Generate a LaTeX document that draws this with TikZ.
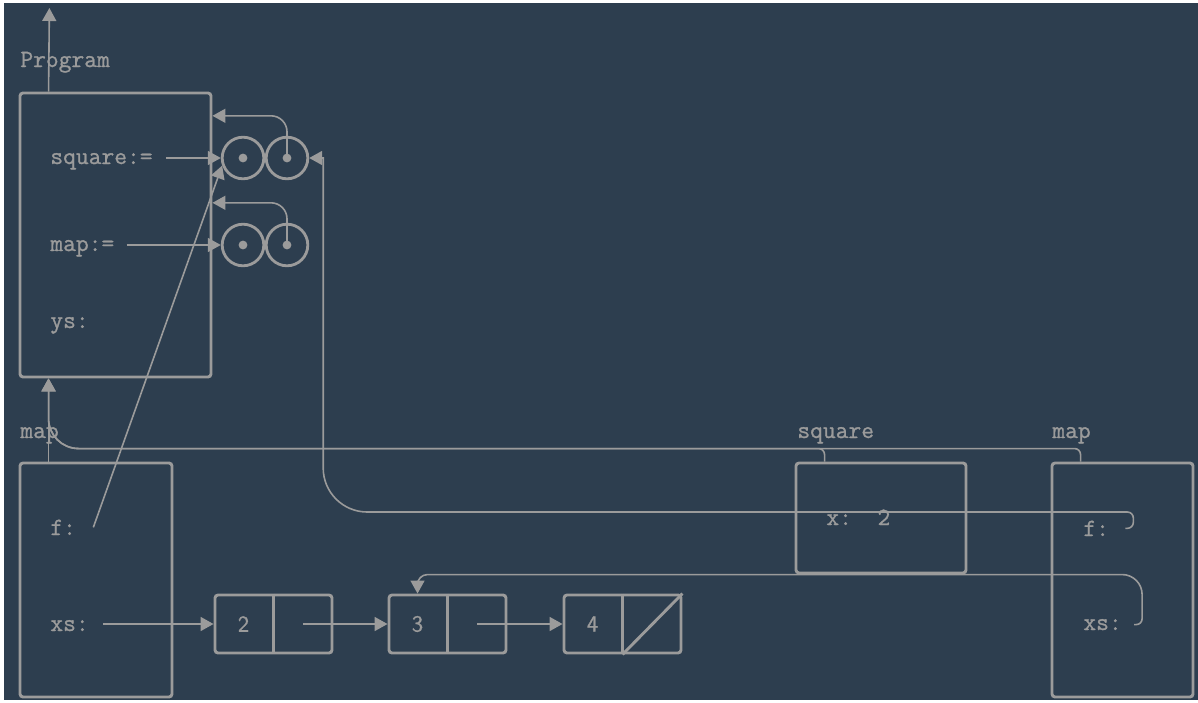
\documentclass[tikz,border=0pt]{standalone}
\usepackage{fontspec}
\newfontfamily\codefont{Latin Modern Mono}[FakeBold=1]
\newfontfamily\valfont{Latin Modern Sans}[FakeBold=1]
\usetikzlibrary{positioning, calc, arrows.meta}

\definecolor{bg}{HTML}{2D3E4F}
\definecolor{fg}{HTML}{9B9B9B}

\begin{document}
\begin{tikzpicture}[
        x=0.5pt, y=-0.5pt,
        frame/.style={
                draw=fg,
                line width=1.45pt,
                rounded corners=1.5pt,
                inner sep=0pt
            },
        cell/.style={frame, minimum width=58.5pt, minimum height=29pt},
        ref/.style={circle, draw=fg, line width=1.4pt, minimum size=20.8pt, inner sep=0pt},
        code/.style={font=\fontsize{12.4}{15}\selectfont\codefont, text=fg, inner sep=0pt, anchor=base west},
        val/.style={font=\fontsize{11.5}{13}\selectfont\valfont, text=fg, inner sep=0pt},
        arr/.style={draw=fg, line width=0.8pt, -{Triangle[length=6.5pt, width=7pt]}}
    ]
    \fill[white] (0,0) rectangle (1198,702);
    \fill[bg] (4,3) rectangle (1198,700);
    \useasboundingbox (0,0) rectangle (1198,702);

    % global frame
    \node[code] (prog_lbl) at (20,67) {Program};
    \node[frame, minimum width=95.5pt, minimum height=142pt] (prog) at (115.5,235) {};
    \node[code] (sq_var) at (50,164) {square:=};
    \node[code] (map_var) at (50,251) {map:=};
    \node[code] (ys_var) at (50,328) {ys:};
    \coordinate (global) at (49.4,8);

    % closures
    \node[ref] (sq_env) at (243,158) {};
    \node[ref] (sq_code) at (287,158) {};
    \node[ref] (map_env) at (243,245) {};
    \node[ref] (map_code) at (287,245) {};
    \foreach \c in {sq_env, sq_code, map_env, map_code}
        \fill[fg] (\c.center) circle (2.2pt);

    % frames of the calls
    \node[code] (lmap_lbl) at (20,438) {map};
    \node[frame, minimum width=76pt, minimum height=117pt] (lmap) at (96,580) {};
    \node[code] (lmap_f) at (50,535) {f:};
    \node[code] (lmap_xs) at (50,631) {xs:};

    \node[code] (sq_lbl) at (797,438) {square};
    \node[frame, minimum width=85pt, minimum height=55pt] (sq) at (881,518) {};
    \node[code] (sq_x) at (826,525) {x:\ \ 2};

    \node[code] (rmap_lbl) at (1052,438) {map};
    \node[frame, minimum width=70.5pt, minimum height=117pt] (rmap) at (1122.5,580) {};
    \node[code] (rmap_f) at (1083,536) {f:};
    \node[code] (rmap_xs) at (1083,630) {xs:};

    % the list
    \node[cell] (n1) at (273.5,624) {};
    \node[cell] (n2) at (447.5,624) {};
    \node[cell] (n3) at (622.5,624) {};
    \foreach \n/\v in {n1/2, n2/3, n3/4} {
        \draw[fg, line width=1.45pt] (\n.north) -- (\n.south);
        \node[val] at ($(\n.west)!0.25!(\n.east)$) {\v};
    }
    \draw[fg, line width=1.45pt] (n3.south) -- (n3.north east);

    % bends of the long connectors
    \coordinate (n2top) at ($(n2.north west)!0.5!(n2.north)$);
    \coordinate (xsbend) at ([yshift=9.5pt]n2top);
    \coordinate (xscurl) at ([xshift=10pt]rmap_xs.east);
    \coordinate (fup) at ([xshift=7pt]sq_code.east);
    \coordinate (fbend) at (fup |- 0,512);
    \coordinate (fcurl) at ([xshift=12pt]rmap_f.east);

    % bindings
    \draw[arr] ([xshift=6.5pt]sq_var.east |- sq_env.west) -- (sq_env.west);
    \draw[arr] ([xshift=6pt]map_var.east |- map_env.west) -- (map_env.west);
    \draw[arr, rounded corners=8pt] (sq_code.center) |- ([yshift=10pt]prog.east |- sq_code.north);
    \draw[arr, rounded corners=8pt] (map_code.center) |- ([yshift=10pt]prog.east |- map_code.north);
    \draw[arr] ([xshift=8.5pt]lmap_f.east) -- (sq_env.200);
    \draw[arr] ([xshift=8pt]rmap_f.east) [rounded corners=3pt] -- (fcurl) -- (fcurl |- fbend)
        [rounded corners=22pt] -- (fbend) [sharp corners] -- (fup) -- (sq_code.east);
    \draw[arr] ([xshift=6pt]rmap_xs.east) [rounded corners=3pt] -- (xscurl)
        [rounded corners=10pt] -- (xscurl |- xsbend) [rounded corners=5pt] -- (xsbend)
        [sharp corners] -- (n2top);
    \draw[arr] ([xshift=7pt]lmap_xs.east |- n1.west) -- (n1.west);
    \draw[arr] ($(n1.center)!0.5!(n1.east)$) -- (n2.west);
    \draw[arr] ($(n2.center)!0.5!(n2.east)$) -- (n3.west);

    % parent frames
    \draw[arr] ([xshift=15pt]prog.north west) -- (global);
    \draw[arr] ([xshift=15pt]lmap.north west) -- ([xshift=15pt]prog.south west);
    \draw[arr] ([xshift=15pt]rmap.north west) [rounded corners=3pt] |- ([yshift=6.5pt]sq.north)
        [rounded corners=15pt] -| ([xshift=15pt]prog.south west);
    \draw[arr] ([xshift=15pt]sq.north west) [rounded corners=3pt] |- ([yshift=6.5pt]lmap.north)
        [rounded corners=15pt] -| ([xshift=15pt]prog.south west);
\end{tikzpicture}
\end{document}
